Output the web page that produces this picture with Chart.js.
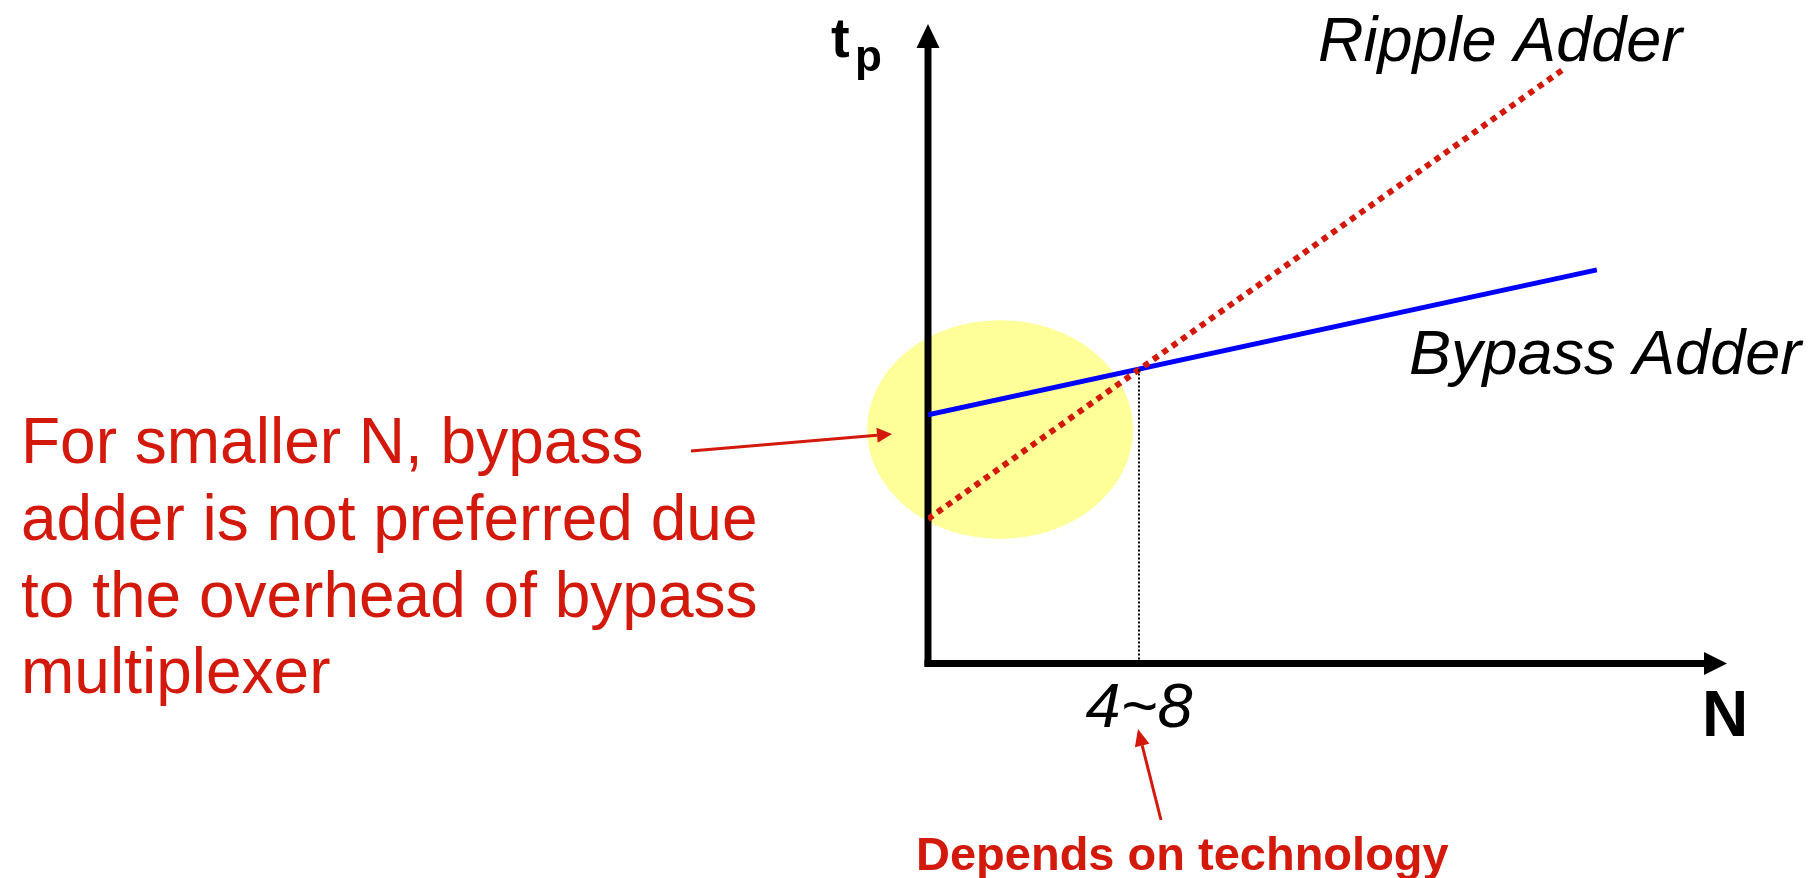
<!DOCTYPE html>
<html>
<head>
<meta charset="utf-8">
<script src="https://cdn.jsdelivr.net/npm/chart.js@4"></script>
<style>
  html, body { margin: 0; padding: 0; background: #fff; }
  #wrap { width: 1814px; height: 878px; }
</style>
</head>
<body>
<div id="wrap"><canvas id="adderChart" width="1814" height="878"></canvas></div>
<script>
// N (bits) and t_p (arbitrary units)
const rippleN = [0, 18.08];
const rippleTp = [4.11, 16.9];
const bypassN = [0, 19.02];
const bypassTp = [7.07, 11.19];
const crossN = [6, 6];
const crossTp = [0, 8.37];
const crossLabel = '4~8';
const noteLines = ['For smaller N, bypass', 'adder is not preferred due', 'to the overhead of bypass', 'multiplexer'];

const RED = '#D2190B';
const FONT = '"Liberation Sans", Arial, sans-serif';

function pts(xs, ys) {
    return xs.map((x, i) => ({ x: x, y: ys[i] }));
}

function arrow(ctx, x1, y1, x2, y2, width, headLen, headW, color) {
    const a = Math.atan2(y2 - y1, x2 - x1);
    const bx = x2 - headLen * Math.cos(a), by = y2 - headLen * Math.sin(a);
    ctx.save();
    ctx.strokeStyle = color;
    ctx.fillStyle = color;
    ctx.lineWidth = width;
    ctx.beginPath();
    ctx.moveTo(x1, y1);
    ctx.lineTo(bx, by);
    ctx.stroke();
    ctx.beginPath();
    ctx.moveTo(x2, y2);
    ctx.lineTo(bx + headW / 2 * Math.sin(a), by - headW / 2 * Math.cos(a));
    ctx.lineTo(bx - headW / 2 * Math.sin(a), by + headW / 2 * Math.cos(a));
    ctx.closePath();
    ctx.fill();
    ctx.restore();
}

// yellow highlight + arrowed axes, under the lines
const backdrop = {
    id: 'backdrop',
    beforeDatasetsDraw(chart) {
        const ctx = chart.ctx;
        const xs = chart.scales.x, ys = chart.scales.y;
        const a = chart.chartArea;
        const cx = xs.getPixelForValue(2.05), cy = ys.getPixelForValue(6.65);
        const rx = xs.getPixelForValue(3.78) - xs.getPixelForValue(0);
        const ry = ys.getPixelForValue(0) - ys.getPixelForValue(3.11);
        ctx.save();
        ctx.fillStyle = '#FFFF99';
        ctx.beginPath();
        ctx.ellipse(cx, cy, rx, ry, 0, 0, Math.PI * 2);
        ctx.fill();
        ctx.restore();

        // y axis
        arrow(ctx, a.left, a.bottom + 3.5, a.left, a.top, 7, 24, 23, '#000');
        // x axis
        arrow(ctx, a.left - 3.5, a.bottom, a.right, a.bottom, 7, 23, 23, '#000');
    }
};

const labels = {
    id: 'labels',
    afterDraw(chart) {
        const ctx = chart.ctx;
        const xs = chart.scales.x;
        ctx.save();
        ctx.textBaseline = 'alphabetic';
        ctx.fillStyle = '#000';

        ctx.font = 'bold 56px ' + FONT;
        ctx.fillText('t', 831, 57);
        ctx.font = 'bold 44px ' + FONT;
        ctx.fillText('p', 855, 71);

        ctx.font = 'bold 64px ' + FONT;
        ctx.fillText('N', 1702, 736);

        ctx.font = 'italic 63px ' + FONT;
        ctx.textAlign = 'center';
        ctx.fillText(crossLabel, xs.getPixelForValue(crossN[0]), 727);
        ctx.textAlign = 'left';
        ctx.fillText('Ripple Adder', 1318, 61);
        ctx.fillText('Bypass Adder', 1409, 374);

        ctx.fillStyle = RED;
        ctx.font = '64px ' + FONT;
        const base = [463, 540, 617, 693];
        noteLines.forEach((t, i) => ctx.fillText(t, 21, base[i]));

        ctx.font = 'bold 47px ' + FONT;
        ctx.fillText('Depends on technology', 916, 870);
        ctx.restore();

        arrow(ctx, 691, 451, 892, 434, 3, 15, 15, RED);
        arrow(ctx, 1161, 820, 1138, 729, 3, 17, 15, RED);
    }
};

const ctx = document.getElementById('adderChart').getContext('2d');
new Chart(ctx, {
    type: 'line',
    data: {
        datasets: [
            {
                label: 'Crossover',
                data: pts(crossN, crossTp),
                borderColor: '#000',
                borderWidth: 2,
                borderDash: [2, 2],
                pointRadius: 0
            },
            {
                label: 'Ripple Adder',
                data: pts(rippleN, rippleTp),
                borderColor: '#D2190B',
                borderWidth: 6,
                borderDash: [6, 5.5],
                borderCapStyle: 'butt',
                pointRadius: 0
            },
            {
                label: 'Bypass Adder',
                data: pts(bypassN, bypassTp),
                borderColor: '#0000FF',
                borderWidth: 5,
                pointRadius: 0
            }
        ]
    },
    options: {
        responsive: false,
        animation: false,
        layout: { padding: { left: 928, right: 87, top: 24, bottom: 214.5 } },
        plugins: {
            legend: { display: false },
            tooltip: { enabled: false }
        },
        scales: {
            x: { type: 'linear', min: 0, max: 22.72, display: false },
            y: { type: 'linear', min: 0, max: 18.18, display: false }
        }
    },
    plugins: [backdrop, labels]
});
</script>
</body>
</html>
